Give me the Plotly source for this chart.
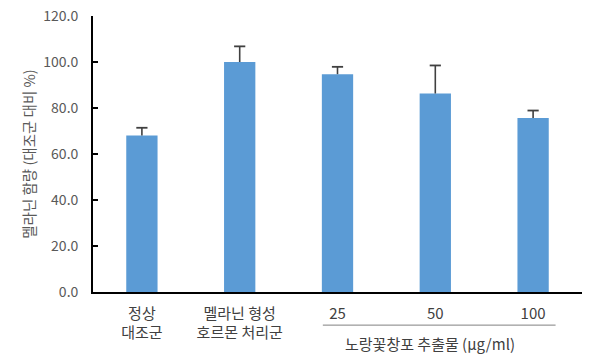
import plotly.graph_objects as go

categories = ["정상<br>대조군", "멜라닌 형성<br>호르몬 처리군", "25", "50", "100"]
values = [68.0, 100.0, 94.7, 86.3, 75.6]
errors = [3.4, 6.8, 3.2, 12.2, 3.3]
y_ticks = [0, 20, 40, 60, 80, 100, 120]
y_title = "멜라닌 함량 (대조군 대비 %)"
group_label = "노랑꽃창포 추출물 (μg/ml)"

FONT = "Noto Sans CJK KR"
GRAY = "#595959"
ERR = "#404040"

xs = list(range(len(categories)))
tops = [v + e for v, e in zip(values, errors)]

fig = go.Figure()
fig.add_trace(go.Bar(
    x=xs, y=values,
    marker=dict(color="#5B9BD5", line=dict(width=0)),
    hoverinfo="y",
))
# one-sided error bars: stem from bar top to value+error, cap only at the top
fig.add_trace(go.Scatter(
    x=xs, y=tops, mode="markers",
    marker=dict(symbol="line-ew-open", size=8, color=ERR, line=dict(color=ERR, width=1.8)),
    error_y=dict(type="data", symmetric=False, array=[0]*len(errors), arrayminus=errors,
                 color=ERR, thickness=1.6, width=0),
    hoverinfo="skip",
))

fig.update_layout(
    width=600, height=359,
    margin=dict(l=93, r=18, t=16, b=67),
    paper_bgcolor="white", plot_bgcolor="white",
    bargap=0.68,
    showlegend=False,
    font=dict(family=FONT, color=GRAY, size=13),
    xaxis=dict(
        tickmode="array", tickvals=xs, ticktext=categories,
        range=[-0.5, len(categories) - 0.5],
        showline=True, linecolor="black", linewidth=1.8,
        ticks="", showgrid=False, zeroline=False, automargin=False,
        ticklabelstandoff=7,
        tickfont=dict(family=FONT, color=ERR, size=15),
    ),
    yaxis=dict(
        range=[0, 120], tickmode="array", tickvals=y_ticks,
        ticktext=[f"{v:.1f}" for v in y_ticks],
        showline=True, linecolor="black", linewidth=1.8,
        ticks="inside", ticklen=5, tickwidth=1.5, tickcolor="black",
        showgrid=False, zeroline=False, automargin=False,
        ticklabelstandoff=10,
        tickfont=dict(family=FONT, color=GRAY, size=14),
        title=dict(text=y_title, font=dict(family=FONT, color=GRAY, size=14.5), standoff=4),
    ),
)

fig.add_shape(type="line", xref="x", yref="paper", x0=1.85, x1=4.23, y0=-0.12, y1=-0.12,
              line=dict(color="#808080", width=1))
fig.add_annotation(text=group_label, xref="x", yref="paper", x=2.95, y=-0.188,
                   showarrow=False, font=dict(family=FONT, color=ERR, size=15),
                   xanchor="center", yanchor="middle")

fig.write_html("out.html", config={"displayModeBar": False},
               post_script="document.body.style.margin='0';document.body.style.overflow='hidden';")
